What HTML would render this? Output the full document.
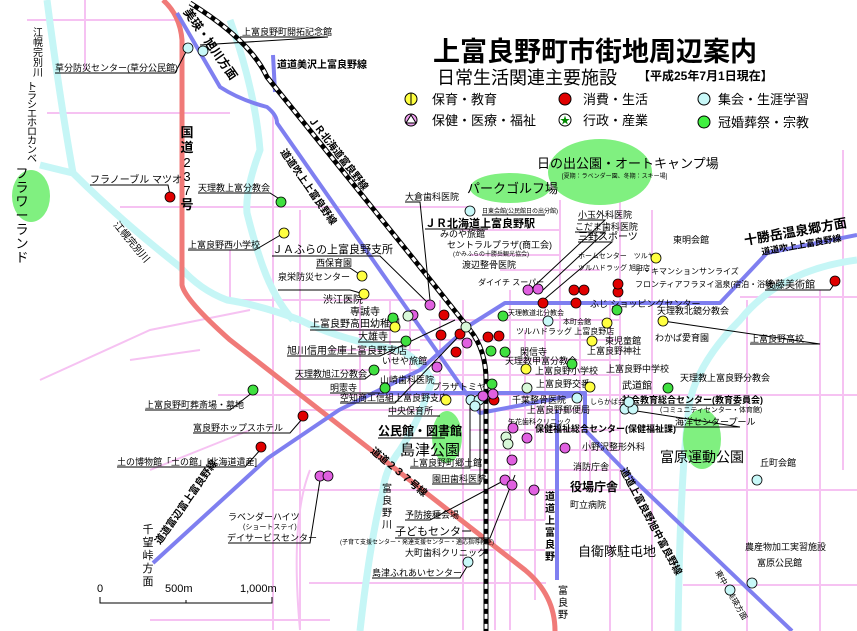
<!DOCTYPE html>
<html><head><meta charset="utf-8"><style>
html,body{margin:0;padding:0;background:#fff;}
svg{display:block;font-family:"Liberation Sans","Noto Sans CJK JP",sans-serif;}
.s{font-size:9px;fill:#000}
.u{stroke:#000;stroke-width:1;fill:none}
.p{stroke:#f6c2f2;stroke-width:2;fill:none}
.r{stroke:#c6f6f6;stroke-width:7;fill:none;stroke-linejoin:round}
.bl{stroke:#7f7ff0;stroke-width:4;fill:none;stroke-linejoin:round}
</style></head><body>
<svg width="857" height="631" viewBox="0 0 857 631" xmlns="http://www.w3.org/2000/svg">
<g class="p">
<path d="M27,20 H177 M47,113 H230 M120,207 H470 M220,300 H430 M218,395 H857 M273,490 H857 M309,583 H546 M683,585 H857 M740,297 H857 M150,620 H330"/>
<path d="M85,0 V70 M273,113 V630 M300,210 V630 M463,300 V630 M510,290 V630 M525,330 V520 M545,300 V520 M620,200 V490 M652,210 V631 M747,300 V631 M843,150 V470 M820,290 V631 M610,300 V631"/>
<path d="M430,320 H620 M420,340 H620 M420,360 H620 M430,375 H620 M300,410 H620 M470,430 H620 M470,450 H620 M470,470 H620 M460,230 H560 M470,255 H560 M560,200 V330 M600,190 H620 M500,270 H600"/>
<path d="M330,330 H420 M330,350 H420 M340,370 H430 M360,300 V400 M390,300 V400 M410,310 V400 M440,300 V400 M580,300 V490 M495,410 V630 M535,400 V600 M590,440 V490 M470,520 H545 M470,550 H545"/>
<path d="M40,380 L150,330 L250,310 M130,360 L200,350 M230,250 Q230,280 230,300 M150,470 L250,430 M310,470 Q290,520 300,630"/>
</g>
<g class="r">
<path d="M47,0 Q60,100 73,173 Q120,220 180,267 Q200,290 227,300 Q260,305 300,320 Q340,340 400,350 Q420,360 432,380 Q420,420 400,450 Q385,470 383,490 Q370,540 360,631"/>
<path d="M230,20 Q255,90 260,150 Q245,190 247,213 Q255,245 263,267 Q275,300 293,320"/>
<path d="M40,165 Q60,170 73,173"/>
<path d="M857,260 Q780,270 740,320 Q700,360 690,400 Q680,470 678,631"/>
</g>
<g fill="#80f080">
<ellipse cx="31" cy="196" rx="19" ry="26"/>
<ellipse cx="510" cy="188" rx="40" ry="15"/>
<ellipse cx="600" cy="172" rx="52" ry="33"/>
<ellipse cx="447" cy="437" rx="15" ry="26"/>
<ellipse cx="702" cy="439" rx="19" ry="30"/>
</g>
<path d="M163,0 Q180,15 182,40 V285 Q185,300 230,340 L525,570 Q555,595 555,631" stroke="#f07a78" stroke-width="5" fill="none"/>
<g class="bl">
<path d="M177,13 L220,87 Q240,100 267,107 Q277,115 277,123 L480,413 L585,393 V430 L634,480 L792,631"/>
<path d="M273,55 L275,92"/>
<path d="M153,563 L268,458 L339,410 L420,370 L470,325 L505,303 H720 L767,253 L857,235"/>
<path d="M372,393 H585 M557,410 V580"/>
</g>
<path d="M190,3 Q250,40 267,77 L420,267 L470,330 Q486,350 486,380 V631" stroke="#000" stroke-width="5" fill="none"/>
<path d="M190,3 Q250,40 267,77 L420,267 L470,330 Q486,350 486,380 V631" stroke="#fff" stroke-width="3" stroke-dasharray="5,5" fill="none"/>
<text x="433" y="61" font-size="27" font-weight="bold">上富良野町市街地周辺案内</text>
<text x="437" y="84" font-size="18">日常生活関連主要施設</text>
<text x="638" y="80" font-size="12" font-weight="bold">【平成25年7月1日現在】</text>
<g stroke="#000" stroke-width="1">
<circle cx="411" cy="99" r="6" fill="#ffff40"/><line x1="411" y1="93" x2="411" y2="105"/>
<circle cx="565" cy="99" r="6" fill="#e00000"/>
<circle cx="704" cy="99" r="6" fill="#c8f8f8"/>
<circle cx="411" cy="120" r="6" fill="#f0a0f0"/>
<circle cx="565" cy="120" r="6" fill="#fff"/>
<circle cx="704" cy="122" r="6" fill="#40f040"/>
</g>
<path d="M411,115 L416,123 H406Z" fill="#fff" stroke="#000"/>
<text x="560" y="124" font-size="10" fill="#080">★</text>
<g font-size="13">
<text x="432" y="104">保育・教育</text><text x="583" y="104">消費・生活</text><text x="718" y="104">集会・生涯学習</text>
<text x="432" y="125">保健・医療・福祉</text><text x="583" y="125">行政・産業</text><text x="718" y="127">冠婚葬祭・宗教</text>
</g>
<g font-weight="bold">
<text transform="translate(183,12) rotate(55)" font-size="12">美瑛・旭川方面</text>
<text transform="translate(308,120) rotate(52)" font-size="10">ＪＲ北海道富良野線</text>
<text transform="translate(280,152) rotate(55)" font-size="10">道道吹上上富良野線</text>
<text transform="translate(370,452) rotate(40)" font-size="10">道道２３７号線</text>
<text transform="translate(620,470) rotate(62)" font-size="10">道道上富良野旭中富良野線</text>
<text transform="translate(160,545) rotate(-55)" font-size="10">道道富辺富上富良野線</text>
<text transform="translate(745,245) rotate(-10)" font-size="13">十勝岳温泉郷方面</text>
<text transform="translate(762,255) rotate(-10)" font-size="9">道道吹上上富良野線</text>
<text x="277" y="68" font-size="10">道道美沢上富良野線</text>
</g>
<text transform="translate(113,225) rotate(50)" font-size="10">江幌完別川</text>
<text transform="translate(715,572) rotate(60)" font-size="8">東中・美瑛方面</text>
<g font-size="10" text-anchor="middle">
<text x="38" y="36">江</text><text x="38" y="46">幌</text><text x="38" y="56">完</text><text x="38" y="66">別</text><text x="38" y="76">川</text>
<text x="32" y="90">ト</text><text x="32" y="99">ラ</text><text x="32" y="108">シ</text><text x="32" y="117">エ</text><text x="32" y="126">ホ</text><text x="32" y="135">ロ</text><text x="32" y="144">カ</text><text x="32" y="153">ン</text><text x="32" y="162">ベ</text>
<text x="187" y="137" font-size="13" font-weight="bold">国</text><text x="187" y="152" font-size="13" font-weight="bold">道</text><text x="187" y="167" font-size="13">2</text><text x="187" y="181" font-size="13">3</text><text x="187" y="195" font-size="13">7</text><text x="187" y="209" font-size="13" font-weight="bold">号</text>
<text x="550" y="500" font-weight="bold">道</text><text x="550" y="512" font-weight="bold">道</text><text x="550" y="524" font-weight="bold">上</text><text x="550" y="536" font-weight="bold">富</text><text x="550" y="548" font-weight="bold">良</text><text x="550" y="560" font-weight="bold">野</text>
<text x="563" y="594">富</text><text x="563" y="606">良</text><text x="563" y="618">野</text>
<text x="148" y="533" font-size="11">千</text><text x="148" y="546" font-size="11">望</text><text x="148" y="559" font-size="11">峠</text><text x="148" y="572" font-size="11">方</text><text x="148" y="585" font-size="11">面</text>
<text x="387" y="492">富</text><text x="387" y="504">良</text><text x="387" y="516">野</text><text x="387" y="528">川</text>
</g>
<g font-size="13" text-anchor="middle"><text x="22" y="178">フ</text><text x="22" y="192">ラ</text><text x="22" y="206">ワ</text><text x="22" y="220">ー</text><text x="22" y="234">ラ</text><text x="22" y="248">ン</text><text x="22" y="262">ド</text></g>
<g class="s">
<text x="242" y="35">上富良野町開拓記念館</text>
<text x="55" y="71">草分防災センター(草分公民館)</text>
<text x="90" y="183" font-size="10">フラノーブル マツオ</text>
<text x="198" y="191">天理教上富分教会</text>
<text x="188" y="248">上富良野西小学校</text>
<text x="272" y="253" font-size="11">ＪＡふらの上富良野支所</text>
<text x="316" y="266">西保育園</text>
<text x="278" y="280">泉栄防災センター</text>
<text x="323" y="303" font-size="10">渋江医院</text>
<text x="350" y="315" font-size="10">専誠寺</text>
<text x="310" y="327" font-size="10">上富良野高田幼稚園</text>
<text x="358" y="340" font-size="10">大雄寺</text>
<text x="287" y="354" font-size="10">旭川信用金庫上富良野支店</text>
<text x="382" y="364">いせや旅館</text>
<text x="295" y="377">天理教旭江分教会</text>
<text x="380" y="383">山崎歯科医院</text>
<text x="330" y="391">明憲寺</text>
<text x="340" y="401">空知商工信組上富良野支店</text>
<text x="145" y="408">上富良野町葬斎場・墓地</text>
<text x="193" y="431">富良野ホップスホテル</text>
<text x="117" y="465">土の博物館「土の館」[北海道遺産]</text>
<text x="388" y="414">中央保育所</text>
<text x="378" y="435" font-size="12" font-weight="bold">公民館・図書館</text>
<text x="400" y="455" font-size="15">島津公園</text>
<text x="410" y="466">上富良野町郷土館</text>
<text x="432" y="482">園田歯科医院</text>
<text x="228" y="520">ラベンダーハイツ</text>
<text x="243" y="529" font-size="7">(ショートステイ)</text>
<text x="227" y="541">デイサービスセンター</text>
<text x="405" y="518">予防接種会場</text>
<text x="395" y="535" font-size="11">子どもセンター</text>
<text x="340" y="544" font-size="6">(子育て支援センター・発達支援センター・適応指導教室)</text>
<text x="405" y="556">大町歯科クリニック</text>
<text x="372" y="576">島津ふれあいセンター</text>
<text x="578" y="556" font-size="13">自衛隊駐屯地</text>
<text x="745" y="550">農産物加工実習施設</text>
<text x="757" y="566">富原公民館</text>
<text x="760" y="466">丘町会館</text>
<text x="660" y="462" font-size="14">富原運動公園</text>
<text x="675" y="425">海洋センタープール</text>
<text x="622" y="403" font-weight="bold">社会教育総合センター(教育委員会)</text>
<text x="660" y="412" font-size="7">(コミュニティセンター・体育館)</text>
<text x="590" y="404" font-size="7">しらかば会館</text>
<text x="622" y="389" font-size="10">武道館</text>
<text x="680" y="381">天理教上富良野分教会</text>
<text x="606" y="372">上富良野中学校</text>
<text x="536" y="387">上富良野交番</text>
<text x="535" y="374">上富良野小学校</text>
<text x="505" y="364">天理教甲富分教会</text>
<text x="587" y="354">上富良野神社</text>
<text x="520" y="355">閑信寺</text>
<text x="605" y="344">東児童館</text>
<text x="516" y="334" font-size="8">ツルハドラッグ 上富良野店</text>
<text x="563" y="324" font-size="7">本町会館</text>
<text x="508" y="315" font-size="7">天理教道北分教会</text>
<text x="590" y="307">ふじ ショッピングセンター</text>
<text x="657" y="314">天理教北鏡分教会</text>
<text x="655" y="341">わかば愛育園</text>
<text x="750" y="342">上富良野高校</text>
<text x="765" y="288" font-size="10">後藤美術館</text>
<text x="635" y="287" font-size="8">フロンティアフラヌイ温泉(宿泊・浴場)</text>
<text x="635" y="274" font-size="8">デ・キマンションサンライズ</text>
<text x="578" y="258" font-size="7">ホームセンター　ツルヤ</text>
<text x="578" y="270" font-size="7">ツルハドラッグ 旭町店</text>
<text x="673" y="243">東明会館</text>
<text x="578" y="240" font-size="10">三野スポーツ</text>
<text x="575" y="230">こだま歯科医院</text>
<text x="578" y="218">小玉外科医院</text>
<text x="537" y="168" font-size="13">日の出公園・オートキャンプ場</text>
<text x="562" y="178" font-size="6">[夏期：ラベンダー園、冬期：スキー場]</text>
<text x="467" y="193" font-size="13">パークゴルフ場</text>
<text x="405" y="200">大倉歯科医院</text>
<text x="482" y="213" font-size="6">日東会館(公民館日の出分館)</text>
<text x="425" y="227" font-size="11" font-weight="bold">ＪＲ北海道上富良野駅</text>
<text x="440" y="237">みのや旅館</text>
<text x="447" y="248">セントラルプラザ(商工会)</text>
<text x="453" y="256" font-size="6">(かみふらの十勝岳観光協会)</text>
<text x="462" y="268">渡辺整骨医院</text>
<text x="478" y="285" font-size="8">ダイイチ スーパー</text>
<text x="432" y="390">プラザトミヤマ</text>
<text x="512" y="403">千葉整骨医院</text>
<text x="527" y="413">上富良野郵便局</text>
<text x="508" y="424" font-size="7">矢花歯科クリニック</text>
<text x="535" y="432" font-weight="bold">保健福祉総合センター(保健福祉課)</text>
<text x="582" y="450">小野沢整形外科</text>
<text x="573" y="470">消防庁舎</text>
<text x="570" y="491" font-size="12" font-weight="bold">役場庁舎</text>
<text x="570" y="508">町立病院</text>
</g>
<g font-size="11"><text x="97" y="592">0</text><text x="165" y="592">500m</text><text x="240" y="592">1,000m</text></g>
<path d="M100,597 V603 H272 V597 M186,600 V603" stroke="#000" fill="none"/>
<g class="u" stroke-width="0.8">
<path d="M55,73 H175 L188,48 M240,37 H328 L200,45 M90,185 H168 L170,195 M198,193 H270 L281,200 M188,250 H255 L284,233 M316,268 H350 L362,276 M278,290 H350 L364,294 M272,256 H380 L430,305 M310,330 H395 M358,342 H406 M287,356 H380 L455,320 M295,379 H365 L374,372 M330,393 H380 M340,403 H395 L460,335 M145,410 H230 L253,392 M193,433 H290 L303,418 M117,467 H245 L261,449 M388,416 H440 M378,438 H445 M410,468 H470 V398 M432,484 H480 V398 M228,543 H310 L320,480 M405,520 H430 L505,480 M395,538 H490 L515,475 M372,578 H460 L468,565 M622,405 H740 M675,427 H740 L630,410 M750,344 H820 L663,321 M765,290 H830 L835,283 M405,202 H420 L430,300 M425,229 H488 M482,215 H545 M578,220 H605 L530,290 M575,232 H605 L543,290 M578,242 H612 L540,303"/>
</g>
<g stroke="#000" stroke-width="0.8">
<g fill="#e00000">
<circle cx="170" cy="197" r="5"/><circle cx="303" cy="416" r="5"/><circle cx="261" cy="447" r="5"/><circle cx="499" cy="336" r="5"/><circle cx="576" cy="303" r="5"/><circle cx="618" cy="292" r="5"/><circle cx="618" cy="284" r="5"/><circle cx="574" cy="290" r="5"/><circle cx="584" cy="290" r="5"/><circle cx="835" cy="281" r="5"/><circle cx="543" cy="303" r="5"/><circle cx="444" cy="315" r="5"/><circle cx="441" cy="335" r="5"/><circle cx="460" cy="334" r="5"/><circle cx="456" cy="352" r="5"/><circle cx="488" cy="337" r="5"/><circle cx="494" cy="400" r="5"/>
</g>
<g fill="#40e040">
<circle cx="281" cy="202" r="5"/><circle cx="393" cy="318" r="5"/><circle cx="406" cy="341" r="5"/><circle cx="374" cy="370" r="5"/><circle cx="385" cy="388" r="5"/><circle cx="253" cy="390" r="5"/><circle cx="503" cy="316" r="5"/><circle cx="505" cy="352" r="5"/><circle cx="572" cy="364" r="5"/><circle cx="617" cy="310" r="5"/><circle cx="668" cy="388" r="5"/><circle cx="491" cy="351" r="5"/><circle cx="492" cy="384" r="5"/>
</g>
<g fill="#ffff40">
<circle cx="284" cy="233" r="5"/><circle cx="362" cy="276" r="5"/><circle cx="364" cy="294" r="5"/><circle cx="395" cy="327" r="5"/><circle cx="446" cy="400" r="5"/><circle cx="526" cy="369" r="5"/><circle cx="592" cy="341" r="5"/><circle cx="590" cy="387" r="5"/><circle cx="607" cy="323" r="5"/><circle cx="663" cy="321" r="5"/><circle cx="656" cy="258" r="5"/>
</g>
<g fill="#c8f8f8">
<circle cx="188" cy="48" r="5"/><circle cx="203" cy="51" r="5"/><circle cx="470" cy="211" r="5"/><circle cx="548" cy="321" r="5"/><circle cx="577" cy="398" r="5"/><circle cx="625" cy="409" r="5"/><circle cx="633" cy="409" r="5"/><circle cx="629" cy="402" r="5"/><circle cx="757" cy="480" r="5"/><circle cx="730" cy="590" r="5"/><circle cx="752" cy="583" r="5"/><circle cx="468" cy="562" r="5"/><circle cx="471" cy="400" r="5"/><circle cx="479" cy="400" r="5"/><circle cx="475" cy="406" r="5"/>
</g>
<g fill="#e060e0">
<circle cx="320" cy="476" r="5"/><circle cx="328" cy="476" r="5"/><circle cx="430" cy="305" r="5"/><circle cx="413" cy="315" r="5"/><circle cx="467" cy="343" r="5"/><circle cx="437" cy="367" r="5"/><circle cx="528" cy="290" r="5"/><circle cx="538" cy="289" r="5"/><circle cx="493" cy="394" r="5"/><circle cx="483" cy="396" r="5"/><circle cx="513" cy="428" r="5"/><circle cx="527" cy="438" r="5"/><circle cx="565" cy="448" r="5"/><circle cx="512" cy="460" r="5"/><circle cx="505" cy="480" r="5"/><circle cx="512" cy="485" r="5"/><circle cx="534" cy="490" r="5"/>
</g>
<g fill="#d8f8d8"><circle cx="408" cy="316" r="5"/><circle cx="466" cy="327" r="5"/><circle cx="527" cy="388" r="5"/><circle cx="506" cy="437" r="5"/><circle cx="508" cy="444" r="5"/></g>
</g>
</svg>
</body></html>
